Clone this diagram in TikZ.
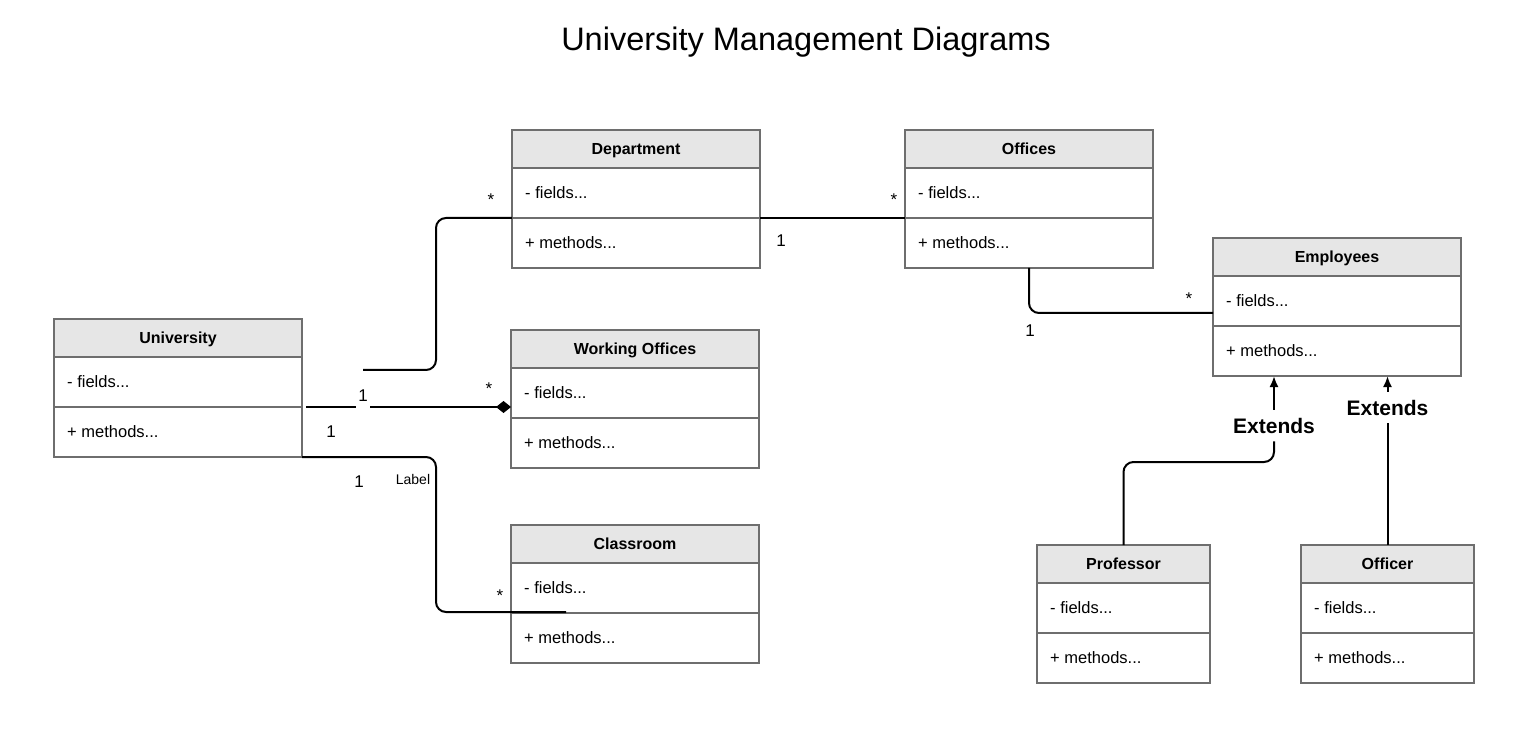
\documentclass[tikz,border=0pt]{standalone}
\usepackage{fontspec}
\setmainfont{Liberation Sans}
\usetikzlibrary{arrows.meta}
\definecolor{bordergray}{HTML}{6E6E6E}
\definecolor{headfill}{HTML}{E6E6E6}
\newcommand\umlbox[5]{%
  \node[hdr, minimum width=#4pt, anchor=north west] (#1) at (#2,#3) {#5};
  \node[slot, minimum width=#4pt, anchor=north west] (#1-f) at (#1.south west) {};
  \node[slot, minimum width=#4pt, anchor=north west] (#1-m) at (#1-f.south west) {};
  \node[slottext] (#1-ft) at ([xshift=13pt,yshift=0.8pt]#1-f.west) {- fields...};
  \node[slottext] (#1-mt) at ([xshift=13pt,yshift=0.8pt]#1-m.west) {+ methods...};
}
\tikzset{
  hdr/.style={draw=bordergray, line width=2pt, fill=headfill, minimum height=38pt,
    inner sep=0pt, outer sep=0pt, text height=11.5pt, text depth=0pt,
    font=\bfseries\fontsize{16}{19}\selectfont},
  slot/.style={draw=bordergray, line width=2pt, fill=white, minimum height=50pt,
    inner sep=0pt, outer sep=0pt},
  slottext/.style={anchor=west, inner sep=0pt, font=\fontsize{16.5}{19}\selectfont},
  conn/.style={line width=2pt, rounded corners=10pt},
  mult/.style={anchor=base, inner sep=0pt, font=\fontsize{17}{20}\selectfont},
  ext/.style={anchor=base, inner xsep=2pt, inner ysep=8pt, font=\bfseries\fontsize{21}{24}\selectfont},
  tri/.style={-{Latex[length=11pt,width=9pt]}, line width=2pt}
}
\begin{document}
\begin{tikzpicture}[x=1pt,y=-1pt]
\fill[white] (0,0) rectangle (1516,743);
\node[anchor=base, font=\fontsize{32.5}{38}\selectfont] (title) at (806,51) {University Management Diagrams};

\umlbox{dept}{512}{130}{248}{Department}
\umlbox{off}{905}{130}{248}{Offices}
\umlbox{emp}{1213}{238}{248}{Employees}
\umlbox{uni}{54}{319}{248}{University}
\umlbox{wo}{511}{330}{248}{Working Offices}
\umlbox{cls}{511}{525}{248}{Classroom}
\umlbox{prof}{1037}{545}{173}{Professor}
\umlbox{offr}{1301}{545}{173}{Officer}

% University - Department
\coordinate (c-ud) at (363,370);
\draw[conn] (c-ud) -- (436,370) |- (dept-f.south west);
% University - Working Offices (composition)
\draw[line width=2pt, -{Diamond[length=15pt,width=12pt]}] ([xshift=4pt]uni-f.south east) -- (uni-f.south east -| wo.west);
% University - Classroom
\coordinate (c-uc) at (566,612);
\draw[conn] (uni-m.south east) -| (436,612) -- (c-uc);
% Department - Offices
\draw[conn] (dept-f.south east) -- (off-f.south west);
% Offices - Employees
\coordinate (c-oe) at (1213,313);
\draw[conn] (off-m.south) |- (c-oe);

% Extends
\node[ext] (ext1) at (1274,433) {Extends};
\node[ext] (ext2) at (1387.5,415) {Extends};
\draw[conn] (prof.north) |- (1274,462) -- (ext1.south);
\draw[tri] (ext1.north) -- (ext1.north |- emp-m.south);
\draw[conn] (offr.north) -- (ext2.south);
\draw[tri] (ext2.north) -- (ext2.north |- emp-m.south);

% multiplicities
\node[mult] (m-ud-s) at (491,206) {*};
\node[mult, fill=white, inner xsep=2pt, inner ysep=6pt] (m-uw-1) at (363,402) {1};
\node[mult] (m-uw-s) at (489,394) {*};
\node[mult] (m-uw-1b) at (331,437) {1};
\node[mult] (m-uc-1) at (359,487) {1};
\node[anchor=base, inner sep=0pt, font=\fontsize{14}{16}\selectfont] (m-uc-lbl) at (413,484) {Label};
\node[mult] (m-uc-s) at (500,601) {*};
\node[mult] (m-do-1) at (781,247) {1};
\node[mult] (m-do-s) at (894,206) {*};
\node[mult] (m-oe-1) at (1030,337) {1};
\node[mult] (m-oe-s) at (1189,305) {*};
\end{tikzpicture}
\end{document}
